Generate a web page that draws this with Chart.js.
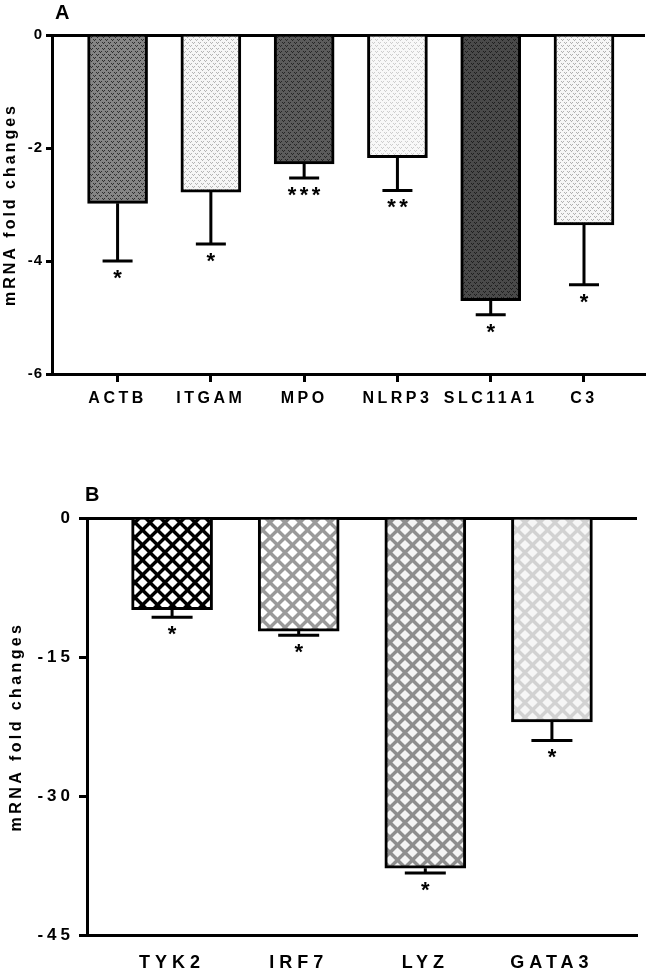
<!DOCTYPE html>
<html>
<head>
<meta charset="utf-8">
<script src="https://cdn.jsdelivr.net/npm/chart.js@4"></script>
<style>
  html, body { margin: 0; padding: 0; background: #fff; }
  #wrapA { position: absolute; left: 0; top: 0; width: 650px; height: 430px; }
  #wrapB { position: absolute; left: 0; top: 470px; width: 650px; height: 503px; }
</style>
</head>
<body>
<div id="wrapA"><canvas id="chartA"></canvas></div>
<div id="wrapB"><canvas id="chartB"></canvas></div>
<script>
// panel A
const genesA = ["ACTB", "ITGAM", "MPO", "NLRP3", "SLC11A1", "C3"];
const foldA = [-2.98, -2.78, -2.28, -2.17, -4.70, -3.36];
const errA = [1.02, 0.92, 0.25, 0.58, 0.25, 1.06];
const starsA = ["*", "*", "***", "**", "*", "*"];
const ticksA = [0, -2, -4, -6];

// panel B
const genesB = ["TYK2", "IRF7", "LYZ", "GATA3"];
const foldB = [-9.9, -12.2, -37.8, -22.0];
const errB = [0.8, 0.45, 0.5, 2.0];
const starsB = ["*", "*", "*", "*"];
const ticksB = [0, -15, -30, -45];

const FONT = '"Liberation Sans", Arial, sans-serif';

// small repeating textures like the GraphPad fills
function dotFill(base, mark) {
    const t = document.createElement("canvas");
    t.width = 6; t.height = 6;
    const c = t.getContext("2d");
    c.fillStyle = base;
    c.fillRect(0, 0, 6, 6);
    c.fillStyle = mark;
    [[0, 0], [2, 0], [1, 1], [3, 3], [5, 3], [4, 4]].forEach(p => c.fillRect(p[0], p[1], 1, 1));
    return c.createPattern(t, "repeat");
}

function diamondFill(base, hole, size) {
    const t = document.createElement("canvas");
    t.width = size; t.height = size;
    const c = t.getContext("2d");
    c.fillStyle = base;
    c.fillRect(0, 0, size, size);
    c.fillStyle = hole;
    const h = size / 2, r = size * 0.34;
    [[0, 0], [size, 0], [0, size], [size, size], [h, h]].forEach(([x, y]) => {
        c.beginPath();
        c.moveTo(x, y - r); c.lineTo(x + r, y); c.lineTo(x, y + r); c.lineTo(x - r, y);
        c.closePath();
        c.fill();
    });
    return c.createPattern(t, "repeat");
}

const fillsA = [
    dotFill("#858585", "#2e2e2e"),
    dotFill("#f6f6f6", "#b4b4b4"),
    dotFill("#5c5c5c", "#262626"),
    dotFill("#f8f8f8", "#cdcdcd"),
    dotFill("#4a4a4a", "#1e1e1e"),
    dotFill("#f6f6f6", "#b0b0b0")
];
const fillsB = [
    diamondFill("#000000", "#ffffff", 15),
    diamondFill("#9a9a9a", "#ffffff", 15),
    diamondFill("#8e8e8e", "#f4f4f4", 15),
    diamondFill("#d2d2d2", "#f6f6f6", 15)
];

// error bars + significance stars
function errorBars(values, errs, stars, cap, width) {
    return {
        id: "errorBars",
        afterDatasetsDraw(chart) {
            const { ctx, scales: { x, y } } = chart;
            ctx.save();
            ctx.strokeStyle = "#000";
            ctx.lineWidth = width;
            ctx.fillStyle = "#000";
            ctx.font = "bold 22px " + FONT;
            ctx.textAlign = "center";
            ctx.textBaseline = "top";
            values.forEach((v, i) => {
                const px = x.getPixelForValue(i + 1);
                const y0 = y.getPixelForValue(v);
                const y1 = y.getPixelForValue(v - errs[i]);
                ctx.beginPath();
                ctx.moveTo(px, y0); ctx.lineTo(px, y1);
                ctx.moveTo(px - cap / 2, y1); ctx.lineTo(px + cap / 2, y1);
                ctx.stroke();
                const s = stars[i];
                for (let k = 0; k < s.length; k++) {
                    ctx.fillText("*", px + (k - (s.length - 1) / 2) * 12, y1 + 7);
                }
            });
            ctx.restore();
        }
    };
}

// letter spacing for axis text (the figure uses widely tracked bold type)
function wrapSpacing(scale, name, px) {
    const key = "_sp_" + name;
    if (scale[key]) return;
    const orig = scale[name];
    scale[name] = function (...a) {
        const c = this.ctx;
        c.save();
        c.letterSpacing = px + "px";
        orig.apply(this, a);
        c.restore();
    };
    scale[key] = true;
}
function spacing(xPx, yPx, titlePx) {
    return {
        id: "spacing",
        afterUpdate(chart) {
            wrapSpacing(chart.scales.x, "drawLabels", xPx);
            wrapSpacing(chart.scales.y, "drawLabels", yPx);
            wrapSpacing(chart.scales.y, "drawTitle", titlePx);
        }
    };
}

function panelLetter(txt, dx, y) {
    return {
        id: "panelLetter",
        afterDraw(chart) {
            const c = chart.ctx;
            c.save();
            c.font = "bold 20px " + FONT;
            c.fillStyle = "#000";
            c.textBaseline = "middle";
            c.fillText(txt, chart.chartArea.left + dx, y);
            c.restore();
        }
    };
}

function panel(p) {
    return new Chart(document.getElementById(p.id), {
        type: "bar",
        data: {
            datasets: [{
                data: p.values.map((v, i) => ({ x: i + 1, y: v })),
                backgroundColor: p.fills,
                borderColor: "#000",
                borderWidth: 3,
                barThickness: p.barW,
                borderSkipped: "start"
            }]
        },
        options: {
            responsive: true,
            maintainAspectRatio: false,
            animation: false,
            layout: { padding: { top: p.top, right: p.right, left: 0, bottom: 0 } },
            plugins: { legend: { display: false }, tooltip: { enabled: false } },
            scales: {
                x: {
                    type: "linear",
                    offset: false,
                    min: p.xMin,
                    max: p.xMax,
                    afterBuildTicks: s => { s.ticks = p.labels.map((l, i) => ({ value: i + 1 })); },
                    afterFit: s => { s.height = p.xH; },
                    ticks: {
                        autoSkip: false,
                        maxRotation: 0,
                        color: "#000",
                        padding: p.xPad,
                        font: { family: FONT, size: p.xFont, weight: "bold" },
                        callback: (v, i) => p.labels[i]
                    },
                    grid: { offset: false, drawOnChartArea: false, drawTicks: p.xTicks, tickLength: 8, tickColor: "#000", tickWidth: 3 },
                    border: { color: "#000", width: 3 }
                },
                y: {
                    min: Math.min(...p.yTicks),
                    max: Math.max(...p.yTicks),
                    afterBuildTicks: s => { s.ticks = p.yTicks.map(v => ({ value: v })); },
                    afterFit: s => { s.width = p.yW; },
                    ticks: {
                        color: "#000",
                        padding: p.yPad,
                        font: { family: FONT, size: p.yFont, weight: "bold" }
                    },
                    grid: {
                        color: c => (c.tick && c.tick.value === 0 ? "#000" : "rgba(0,0,0,0)"),
                        lineWidth: 3,
                        tickLength: p.yTickLen,
                        tickColor: "#000",
                        tickWidth: 3
                    },
                    border: { color: "#000", width: 3 },
                    title: {
                        display: true,
                        text: "mRNA fold changes",
                        color: "#000",
                        font: { family: FONT, size: 16, weight: "bold" },
                        padding: { top: p.titlePad, bottom: 0 }
                    }
                }
            }
        },
        plugins: [
            errorBars(p.values, p.errs, p.stars, p.cap, 3),
            spacing(p.xSp, p.ySp, p.titleSp),
            panelLetter(p.letter, p.letterDx, p.letterY)
        ]
    });
}

panel({
    id: "chartA", letter: "A", letterDx: 3, letterY: 13,
    labels: genesA, values: foldA, errs: errA, stars: starsA, fills: fillsA, yTicks: ticksA,
    top: 35, right: 5, xMin: 0.297, xMax: 6.654, barW: 60, cap: 30,
    xH: 56, xPad: 7, xFont: 16, xSp: 3.5, xTicks: true,
    yW: 52, yPad: 3, yFont: 15, ySp: 1, yTickLen: 6,
    titlePad: 1, titleSp: 3
});

panel({
    id: "chartB", letter: "B", letterDx: -2, letterY: 25,
    labels: genesB, values: foldB, errs: errB, stars: starsB, fills: fillsB, yTicks: ticksB,
    top: 48, right: 13, xMin: 0.328, xMax: 4.672, barW: 81, cap: 41,
    xH: 38, xPad: 17, xFont: 18, xSp: 5, xTicks: false,
    yW: 87, yPad: 5, yFont: 17, ySp: 4, yTickLen: 8,
    titlePad: 7, titleSp: 3.4
});
</script>
</body>
</html>
